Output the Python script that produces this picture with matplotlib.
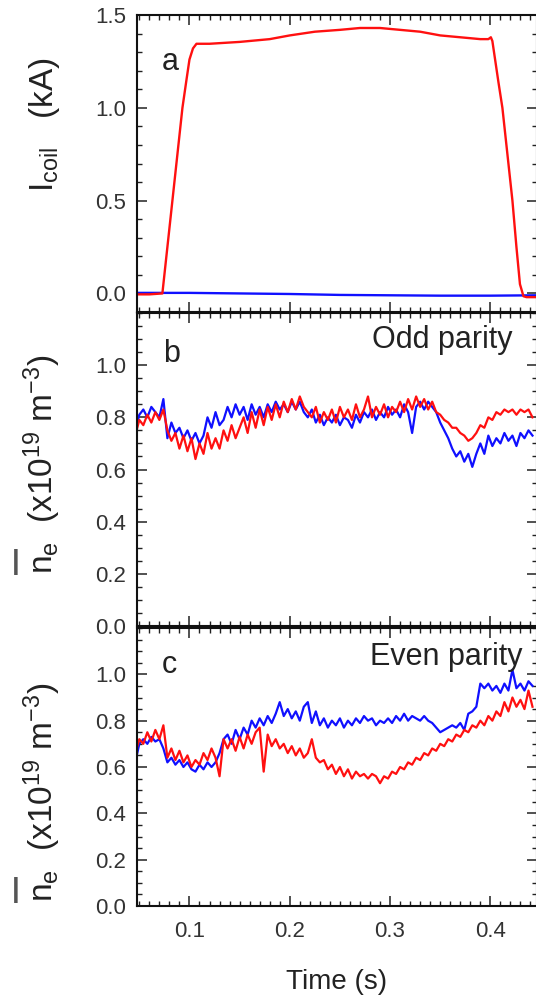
import numpy as np
import matplotlib
matplotlib.use("Agg")
import matplotlib.pyplot as plt
from matplotlib.ticker import MultipleLocator

plt.rcParams['font.family'] = ['Liberation Sans', 'DejaVu Sans']
plt.rcParams['mathtext.fontset'] = 'custom'
plt.rcParams['mathtext.rm'] = 'Liberation Sans'
plt.rcParams['mathtext.it'] = 'Liberation Sans'
plt.rcParams['mathtext.default'] = 'regular'

# --- panel a: coil current (kA) ---
coil_t = [0.046, 0.060, 0.073, 0.078, 0.083, 0.088, 0.093, 0.097, 0.100, 0.1035, 0.107,
          0.12, 0.15, 0.18, 0.20, 0.225, 0.25, 0.27, 0.29, 0.31, 0.33, 0.35, 0.37, 0.39,
          0.398, 0.4005, 0.402, 0.405, 0.408, 0.412, 0.417, 0.422, 0.426, 0.4295,
          0.433, 0.436, 0.447]
coil_red = [-0.005, -0.005, 0.0, 0.25, 0.5, 0.75, 1.0, 1.15, 1.26, 1.32, 1.345,
            1.345, 1.355, 1.37, 1.39, 1.41, 1.42, 1.43, 1.43, 1.42, 1.41, 1.39, 1.38, 1.37,
            1.37, 1.38, 1.36, 1.25, 1.14, 1.0, 0.75, 0.5, 0.25, 0.05,
            -0.015, -0.02, -0.02]
coil_blue_t = [0.046, 0.10, 0.15, 0.20, 0.25, 0.30, 0.35, 0.40, 0.447]
coil_blue = [0.003, 0.003, 0.0, -0.003, -0.008, -0.010, -0.012, -0.012, -0.010]

# --- panels b and c: line-averaged density (1e19 m^-3), sampled every 4 ms ---
t = np.round(0.046 + 0.004 * np.arange(100), 3)

odd_blue = [0.75, 0.81, 0.83, 0.80, 0.84, 0.82, 0.80, 0.87, 0.72, 0.78,
            0.74, 0.76, 0.72, 0.75, 0.71, 0.74, 0.70, 0.73, 0.80, 0.76,
            0.82, 0.77, 0.79, 0.84, 0.80, 0.85, 0.81, 0.84, 0.79, 0.85,
            0.81, 0.84, 0.80, 0.85, 0.82, 0.86, 0.83, 0.85, 0.82, 0.86,
            0.83, 0.86, 0.82, 0.80, 0.83, 0.78, 0.81, 0.77, 0.80, 0.78,
            0.81, 0.77, 0.80, 0.79, 0.76, 0.81, 0.78, 0.82, 0.80, 0.83,
            0.79, 0.82, 0.80, 0.84, 0.81, 0.83, 0.80, 0.85, 0.82, 0.74,
            0.84, 0.86, 0.83, 0.86, 0.84, 0.82, 0.78, 0.75, 0.72, 0.68,
            0.65, 0.67, 0.63, 0.66, 0.61, 0.66, 0.70, 0.66, 0.73, 0.69,
            0.72, 0.70, 0.74, 0.71, 0.73, 0.69, 0.74, 0.72, 0.75, 0.73]
odd_red = [0.73, 0.79, 0.77, 0.81, 0.78, 0.82, 0.79, 0.83, 0.75, 0.71,
           0.74, 0.68, 0.73, 0.67, 0.72, 0.64, 0.70, 0.66, 0.74, 0.68,
           0.72, 0.68, 0.75, 0.71, 0.77, 0.72, 0.76, 0.80, 0.74, 0.82,
           0.76, 0.83, 0.77, 0.84, 0.79, 0.85, 0.80, 0.86, 0.82, 0.87,
           0.83, 0.88, 0.84, 0.82, 0.80, 0.84, 0.78, 0.82, 0.79, 0.83,
           0.78, 0.84, 0.80, 0.83, 0.79, 0.85, 0.80, 0.83, 0.88, 0.80,
           0.84, 0.81, 0.85, 0.80, 0.84, 0.82, 0.86, 0.82, 0.87, 0.83,
           0.88, 0.84, 0.87, 0.83, 0.86, 0.82, 0.81, 0.79, 0.78, 0.76,
           0.76, 0.74, 0.73, 0.71, 0.72, 0.74, 0.77, 0.76, 0.80, 0.79,
           0.82, 0.81, 0.83, 0.82, 0.83, 0.81, 0.83, 0.82, 0.83, 0.80]
even_blue = [0.62, 0.70, 0.72, 0.70, 0.73, 0.71, 0.72, 0.68, 0.62, 0.64,
             0.61, 0.63, 0.60, 0.62, 0.59, 0.58, 0.61, 0.59, 0.62, 0.60,
             0.62, 0.66, 0.72, 0.74, 0.70, 0.76, 0.72, 0.77, 0.74, 0.80,
             0.77, 0.81, 0.78, 0.82, 0.79, 0.83, 0.88, 0.82, 0.85, 0.81,
             0.84, 0.80, 0.86, 0.88, 0.79, 0.84, 0.78, 0.81, 0.77, 0.80,
             0.78, 0.81, 0.77, 0.80, 0.78, 0.81, 0.79, 0.82, 0.80, 0.81,
             0.78, 0.80, 0.79, 0.81, 0.79, 0.82, 0.80, 0.83, 0.80, 0.82,
             0.81, 0.80, 0.82, 0.80, 0.79, 0.77, 0.75, 0.76, 0.77, 0.78,
             0.77, 0.79, 0.76, 0.83, 0.84, 0.86, 0.96, 0.94, 0.96, 0.93,
             0.95, 0.92, 0.96, 0.93, 1.02, 0.94, 0.96, 0.93, 0.97, 0.95]
even_red = [0.66, 0.72, 0.70, 0.75, 0.71, 0.76, 0.72, 0.78, 0.64, 0.68,
            0.63, 0.67, 0.62, 0.65, 0.60, 0.63, 0.61, 0.66, 0.63, 0.68,
            0.64, 0.56, 0.72, 0.68, 0.72, 0.67, 0.73, 0.68, 0.74, 0.70,
            0.75, 0.77, 0.58, 0.74, 0.69, 0.72, 0.68, 0.70, 0.66, 0.69,
            0.65, 0.68, 0.64, 0.66, 0.72, 0.64, 0.62, 0.63, 0.59, 0.61,
            0.57, 0.60, 0.56, 0.59, 0.55, 0.58, 0.56, 0.57, 0.55, 0.57,
            0.56, 0.53, 0.56, 0.55, 0.58, 0.57, 0.60, 0.59, 0.62, 0.61,
            0.64, 0.63, 0.66, 0.65, 0.68, 0.67, 0.70, 0.69, 0.72, 0.71,
            0.74, 0.73, 0.76, 0.75, 0.78, 0.77, 0.80, 0.78, 0.82, 0.80,
            0.84, 0.82, 0.88, 0.84, 0.90, 0.86, 0.89, 0.85, 0.93, 0.86]

RED = '#ff1010'
BLUE = '#1010ff'
TXT = '#222222'

fig = plt.figure(figsize=(5.36, 10), dpi=100)
left, width = 137 / 536, 400 / 536
ax_a = fig.add_axes([left, 1 - 312 / 1000, width, 297 / 1000])
ax_b = fig.add_axes([left, 1 - 626 / 1000, width, 313 / 1000])
ax_c = fig.add_axes([left, 1 - 906 / 1000, width, 278 / 1000])

ax_a.plot(coil_blue_t, coil_blue, color=BLUE, lw=1.7)
ax_a.plot(coil_t, coil_red, color=RED, lw=1.7)
ax_b.plot(t, odd_blue, color=BLUE, lw=1.6)
ax_b.plot(t, odd_red, color=RED, lw=1.6)
ax_c.plot(t, even_blue, color=BLUE, lw=1.6)
ax_c.plot(t, even_red, color=RED, lw=1.6)

for ax in (ax_a, ax_b, ax_c):
    ax.set_xlim(0.0477, 0.4465)
    ax.xaxis.set_major_locator(MultipleLocator(0.1))
    ax.xaxis.set_minor_locator(MultipleLocator(0.01))
    ax.tick_params(which='both', direction='in', top=True, right=True,
                   labelsize=16, labelcolor='#333333', color='#222222')
    ax.tick_params(which='major', length=7, width=1.1)
    ax.tick_params(which='minor', length=3.5, width=1.0)
    ax.tick_params(axis='y', pad=8)
    ax.tick_params(axis='x', pad=11)
    for s in ax.spines.values():
        s.set_linewidth(1.5)
        s.set_color('#111111')

ax_a.set_ylim(-0.1, 1.5)
ax_a.set_yticks([0.0, 0.5, 1.0, 1.5])
ax_a.yaxis.set_minor_locator(MultipleLocator(0.1))
ax_a.set_yticklabels(['0.0', '0.5', '1.0', '1.5'])

for ax in (ax_b, ax_c):
    ax.set_ylim(0, 1.2)
    ax.set_yticks([0.0, 0.2, 0.4, 0.6, 0.8, 1.0])
    ax.set_yticklabels(['0.0', '0.2', '0.4', '0.6', '0.8', '1.0'])
    ax.yaxis.set_minor_locator(MultipleLocator(0.05))

ax_a.tick_params(axis='x', labelbottom=False)
ax_b.tick_params(axis='x', labelbottom=False)
ax_c.set_xticks([0.1, 0.2, 0.3, 0.4])
ax_c.set_xticklabels(['0.1', '0.2', '0.3', '0.4'])
ax_c.set_xlabel('Time (s)', fontsize=20, color=TXT, va='center')
ax_c.xaxis.set_label_coords(0.5, -0.272)

ax_a.set_ylabel('I$_{coil}$   (kA)', fontsize=24, color=TXT, va='center')
ax_a.yaxis.set_label_coords(-0.2325, 0.63)
dens_label = 'n$_e$  (x10$^{19}$ m$^{-3}$)'
ax_b.set_ylabel(dens_label, fontsize=24, color=TXT, va='center')
ax_b.yaxis.set_label_coords(-0.236, 0.517)
ax_c.set_ylabel(dens_label, fontsize=24, color=TXT, va='center')
ax_c.yaxis.set_label_coords(-0.236, 0.41)
# overbar of the line-averaged density symbol
ax_b.text(-0.303, 0.205, '|', transform=ax_b.transAxes, ha='center', va='center',
          fontsize=20, fontweight='bold', color='#555555')
ax_c.text(-0.303, 0.058, '|', transform=ax_c.transAxes, ha='center', va='center',
          fontsize=20, fontweight='bold', color='#555555')

ax_a.text(0.0625, 0.815, 'a', transform=ax_a.transAxes, fontsize=22, color=TXT, va='baseline')
ax_b.text(0.065, 0.843, 'b', transform=ax_b.transAxes, fontsize=22, color=TXT, va='baseline')
ax_c.text(0.0625, 0.838, 'c', transform=ax_c.transAxes, fontsize=22, color=TXT, va='baseline')
ax_b.text(0.9375, 0.888, 'Odd parity', transform=ax_b.transAxes, fontsize=22,
          color=TXT, ha='right', va='baseline')
ax_c.text(0.965, 0.867, 'Even parity', transform=ax_c.transAxes, fontsize=22,
          color=TXT, ha='right', va='baseline')

fig.savefig('out.png', dpi=100)
